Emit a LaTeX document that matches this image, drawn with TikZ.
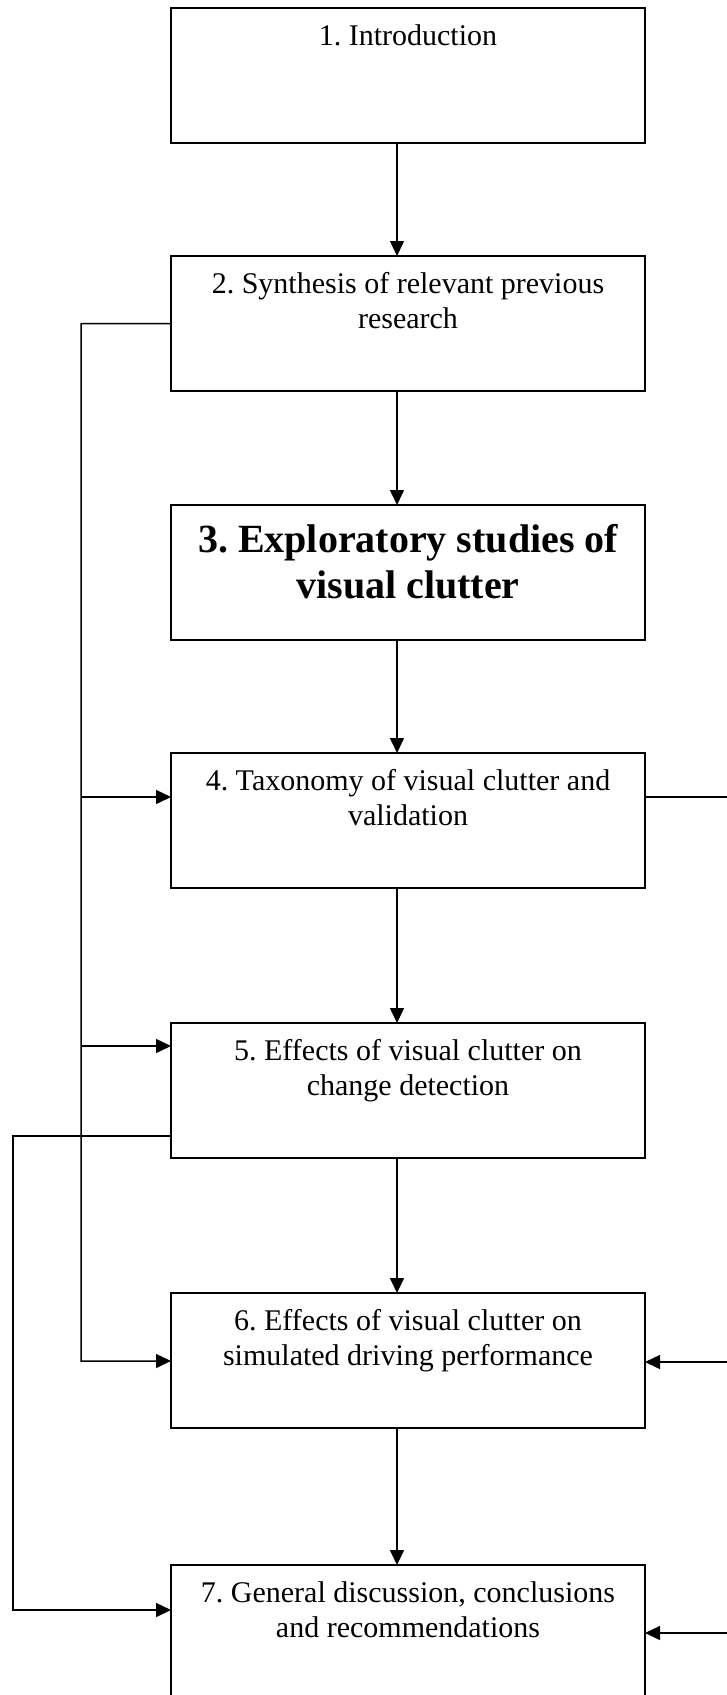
\documentclass[tikz,border=0pt]{standalone}
\usepackage{fontspec}
\setmainfont{Liberation Serif}
\usetikzlibrary{arrows.meta}
\frenchspacing

% text of a stage box: first baseline fixed below the top edge
\newcommand{\stagetext}[1]{\parbox[t][135bp][t]{474bp}{\centering
  \fontsize{30bp}{35bp}\selectfont\rule{0pt}{37bp}#1\par}}
\newcommand{\stagebold}[1]{\parbox[t][135bp][t]{474bp}{\centering
  \fontsize{40bp}{46bp}\selectfont\bfseries\rule{0pt}{47bp}#1\par}}

\begin{document}
\begin{tikzpicture}[x=1bp,y=-1bp,
  stage/.style={draw, line width=1.8bp, inner sep=0pt, outer sep=0pt,
    minimum width=474bp, minimum height=135bp, anchor=north west},
  link/.style={line width=1.5bp, -{Triangle[length=15bp,width=14bp]}},
  plain/.style={line width=1.5bp}]

\clip (0,0) rectangle (727,1695);

% stages
\node[stage] (s1) at (171,8)    {\stagetext{1. Introduction}};
\node[stage] (s2) at (171,256)  {\stagetext{2. Synthesis of relevant previous\\research}};
\node[stage] (s3) at (171,505)  {\stagebold{3. Exploratory studies of\\visual clutter}};
\node[stage] (s4) at (171,753)  {\stagetext{4. Taxonomy of visual clutter and\\validation}};
\node[stage] (s5) at (171,1023) {\stagetext{5. Effects of visual clutter on\\change detection}};
\node[stage] (s6) at (171,1293) {\stagetext{6. Effects of visual clutter on\\simulated driving performance}};
\node[stage] (s7) at (171,1565) {\stagetext{7. General discussion, conclusions\\and recommendations}};

% main sequence
\foreach \a/\b in {s1/s2, s2/s3, s3/s4, s4/s5, s5/s6, s6/s7}
  \draw[link] ([xshift=-11bp]\a.south) -- ([xshift=-11bp]\b.north);

% left bus from stage 2
\coordinate (la) at (81,323.5);
\coordinate (t4) at (81,797);
\coordinate (t5) at (81,1046);
\coordinate (t6) at (81,1361);
\draw[link] (s2.west) -- (la) -- (t6) -- (t6 -| s6.west);
\draw[link] (t4) -- (t4 -| s4.west);
\draw[link] (t5) -- (t5 -| s5.west);

% outer left bus from stage 5 to stage 7
\coordinate (q5) at (13,1136);
\coordinate (q7) at (13,1610);
\draw[link] (q5 -| s5.west) -- (q5) -- (q7) -- (q7 -| s7.west);

% right side links
\coordinate (r4) at (740,797);
\coordinate (r6) at (740,1362);
\coordinate (r7) at (740,1633);
\draw[plain] (r4 -| s4.east) -- (r4);
\draw[link] (r6) -- (r6 -| s6.east);
\draw[link] (r7) -- (r7 -| s7.east);

\end{tikzpicture}
\end{document}
